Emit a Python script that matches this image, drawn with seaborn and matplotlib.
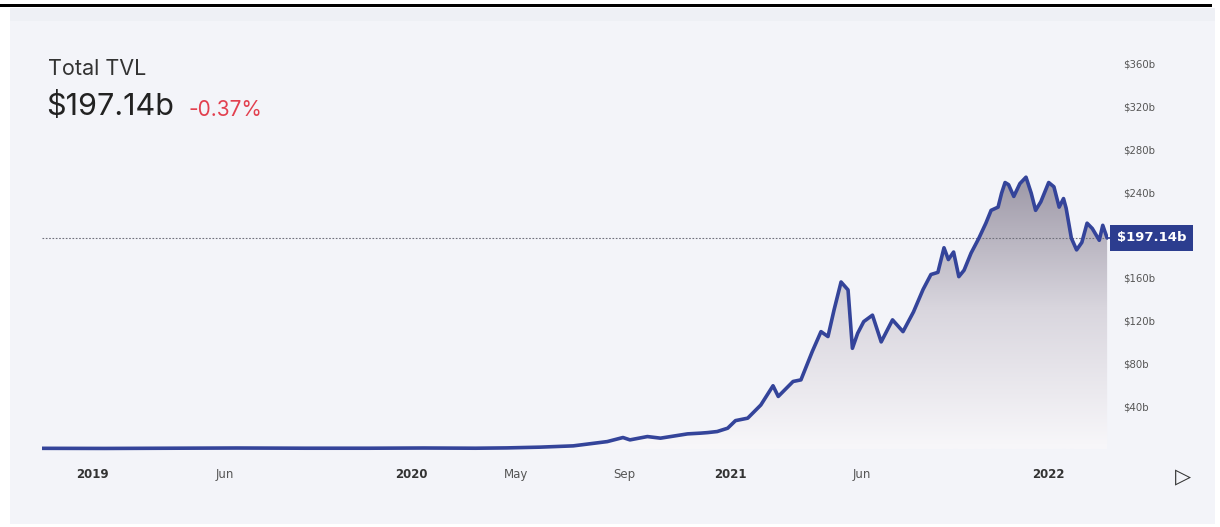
"""
Total TVL area chart (DeFi style card)
"""

import matplotlib
matplotlib.use('Agg')
import matplotlib.pyplot as plt
import matplotlib.dates as mdates
import matplotlib.transforms as mtransforms
from matplotlib.colors import LinearSegmentedColormap
from matplotlib.patches import Rectangle
import seaborn as sns
import pandas as pd
import numpy as np


# values (billions of USD)
dates = [
    '2018-11-04', '2019-01-15', '2019-04-01', '2019-06-15', '2019-09-01',
    '2019-11-15', '2020-01-15', '2020-03-15', '2020-04-20', '2020-05-28',
    '2020-07-05', '2020-08-13', '2020-08-31', '2020-09-08', '2020-09-28',
    '2020-10-13', '2020-11-13', '2020-11-28', '2020-12-06', '2020-12-17',
    '2020-12-29', '2021-01-07', '2021-01-21', '2021-02-05', '2021-02-19',
    '2021-02-25', '2021-03-14', '2021-03-23', '2021-04-05', '2021-04-15',
    '2021-04-23', '2021-04-30', '2021-05-08', '2021-05-16', '2021-05-21',
    '2021-05-27', '2021-06-03', '2021-06-13', '2021-06-23', '2021-07-06',
    '2021-07-18', '2021-07-30', '2021-08-10', '2021-08-19', '2021-08-27',
    '2021-09-03', '2021-09-08', '2021-09-14', '2021-09-20', '2021-09-26',
    '2021-10-04', '2021-10-13', '2021-10-21', '2021-10-27', '2021-11-04',
    '2021-11-08', '2021-11-12', '2021-11-16', '2021-11-22', '2021-11-29',
    '2021-12-06', '2021-12-12', '2021-12-17', '2021-12-23', '2022-01-01',
    '2022-01-07', '2022-01-13', '2022-01-18', '2022-01-21', '2022-01-27',
    '2022-02-02', '2022-02-08', '2022-02-14', '2022-02-20', '2022-02-28',
    '2022-03-04', '2022-03-09',
]
tvl = [
    0.5, 0.4, 0.6, 0.8, 0.6,
    0.6, 0.8, 0.6, 0.9, 1.6,
    2.8, 6.8, 10.6, 8.4, 11.5,
    10.0, 14.0, 14.7, 15.2, 16.2,
    19.3, 26.4, 28.7, 41.0, 59.0,
    49.0, 63.0, 64.5, 91.0, 109.6,
    105.0, 130.0, 156.0, 148.6, 94.0,
    108.0, 119.0, 125.0, 100.0, 120.6,
    109.6, 128.0, 149.0, 163.0, 165.0,
    188.0, 177.0, 184.0, 161.0, 167.0,
    183.0, 197.0, 211.0, 223.0, 226.0,
    239.0, 249.0, 247.0, 236.0, 248.0,
    254.0, 239.0, 223.0, 231.0, 249.0,
    245.0, 226.0, 234.0, 225.0, 197.0,
    186.0, 193.0, 211.0, 206.0, 195.0,
    209.0, 197.14,
]

ytick_values = [40, 80, 120, 160, 240, 280, 320, 360]
ytick_labels = ['$40b', '$80b', '$120b', '$160b', '$240b', '$280b', '$320b', '$360b']
xtick_dates = ['2019-01-01', '2019-06-01', '2020-01-01', '2020-05-01',
               '2020-09-01', '2021-01-01', '2021-06-01', '2022-01-01']
xtick_labels = ['2019', 'Jun', '2020', 'May', 'Sep', '2021', 'Jun', '2022']
current_value = 197.14
change_pct = '-0.37%'

df = pd.DataFrame({'date': pd.to_datetime(dates), 'tvl': tvl})

sns.set_theme(style='white')
plt.rcParams['font.family'] = ['Inter', 'DejaVu Sans']

W, H = 1220, 527
fig = plt.figure(figsize=(W / 100, H / 100), dpi=100, facecolor='white')

# card background and top rule
fig.patches.append(Rectangle((10 / W, 3 / H), 1205 / W, 516 / H, transform=fig.transFigure,
                             facecolor='#f3f4f9', edgecolor='none', zorder=-10))
fig.patches.append(Rectangle((10 / W, 506 / H), 1205 / W, 13 / H, transform=fig.transFigure,
                             facecolor='#eef0f5', edgecolor='none', zorder=-9))
fig.patches.append(Rectangle((0, 520 / H), 1212 / W, 3.5 / H, transform=fig.transFigure,
                             facecolor='black', edgecolor='none', zorder=-8))

ax = fig.add_axes([42 / W, 76 / H, 1066 / W, 408.6 / H])
ax.set_facecolor('none')

x0 = pd.Timestamp('2018-11-04')
x1 = pd.Timestamp('2022-03-10')
ymin, ymax = -2, 380

# gradient fill under the curve
grad_cmap = LinearSegmentedColormap.from_list('tvlfill', ['#f8f7fa', '#d9d6de', '#9a95a4'])
fill = ax.fill_between(df['date'], df['tvl'], 0, facecolor='none', edgecolor='none')
grad = np.linspace(0, 1, 256).reshape(-1, 1)
img = ax.imshow(grad, aspect='auto', cmap=grad_cmap, origin='lower',
                extent=[mdates.date2num(x0), mdates.date2num(df['date'].iloc[-1]), 0, 260],
                zorder=1)
img.set_clip_path(fill.get_paths()[0], transform=ax.transData)

sns.lineplot(data=df, x='date', y='tvl', ax=ax, color='#34449a', linewidth=2.6, zorder=3)

# current value guide + highlighted label
ax.axhline(current_value, color='#6f6f7a', linestyle=(0, (1.5, 1.5)), linewidth=0.8, zorder=2)
trans = mtransforms.blended_transform_factory(ax.transAxes, ax.transData)
ax.plot([1.0, 1.008], [current_value, current_value], color='#2c3d8f', lw=1.2,
        transform=trans, clip_on=False)
ax.text(1.0 + 9 / 1066, current_value, f'${current_value:.2f}b', transform=trans,
        ha='left', va='center', color='white', fontsize=9.5, fontweight='bold',
        family='DejaVu Sans',
        bbox=dict(boxstyle='square,pad=0.5', facecolor='#2c3d8f', edgecolor='none'))

ax.set_xlim(x0, x1)
ax.set_ylim(ymin, ymax)

ax.yaxis.tick_right()
ax.set_yticks(ytick_values)
ax.set_yticklabels(ytick_labels)
ax.tick_params(axis='y', length=0, pad=11, labelsize=7.3, labelcolor='#555555')

ax.set_xticks(pd.to_datetime(xtick_dates))
ax.set_xticklabels(xtick_labels)
ax.tick_params(axis='x', length=0, pad=12, labelsize=8.5)
for lbl in ax.get_xticklabels():
    if lbl.get_text().isdigit():
        lbl.set_fontweight('bold')
        lbl.set_color('#333333')
    else:
        lbl.set_color('#555555')
for lbl in ax.get_xticklabels() + ax.get_yticklabels():
    lbl.set_family('DejaVu Sans')

ax.set_xlabel('')
ax.set_ylabel('')
sns.despine(ax=ax, left=True, bottom=True, right=True, top=True)
ax.grid(False)

# header texts
fig.text(48 / W, 1 - 69 / H, 'Total TVL', fontsize=15.5, color='#333333', va='center')
fig.text(46 / W, 1 - 107 / H, '$197.14b', fontsize=22, color='#222222', va='center')
fig.text(188 / W, 1 - 110 / H, change_pct, fontsize=15, color='#e2404f', va='center')
fig.text(1183 / W, 1 - 477 / H, '▷', fontsize=15, color='#333333', ha='center', va='center',
         family='DejaVu Sans')

plt.savefig('out.png', dpi=100, facecolor='white')
